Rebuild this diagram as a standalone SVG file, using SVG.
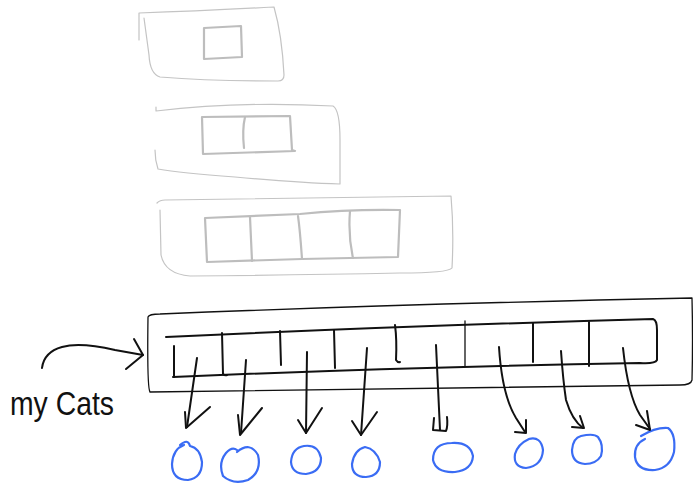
<svg xmlns="http://www.w3.org/2000/svg" width="693" height="487" viewBox="0 0 693 487">
<defs>
<style>
.outer{fill:none;stroke:#c4c4c4;stroke-width:1.2;stroke-linecap:round;stroke-linejoin:round}
.cell{fill:none;stroke:#bdbdbd;stroke-width:2.2;stroke-linecap:round;stroke-linejoin:round}
.ink{fill:none;stroke:#111;stroke-width:2;stroke-linecap:round;stroke-linejoin:round}
.thin{fill:none;stroke:#111;stroke-width:1.3;stroke-linecap:round;stroke-linejoin:round}
.cat{fill:none;stroke:#3a6cf4;stroke-width:2.2;stroke-linecap:round;stroke-linejoin:round}
.lbl{font-family:"Liberation Sans","DejaVu Sans",sans-serif;font-size:34px;fill:#111}
</style>
</defs>
<rect width="693" height="487" fill="#fff"/>

<g id="array1">
<path class="outer" d="M139,40 L139,13 Q200,11 274,7 Q282,35 284,75 Q284,81 278,81 Q210,81 160,77 Q150,74 149,55 L144,18"/>
<path class="cell" d="M204,28 L241,26 L242,57 L204,59 Z"/>
</g>

<g id="array2">
<path class="outer" d="M156,107 L156,111 Q240,101 333,106 Q340,110 340,140 L340,184 Q300,183 235,177 Q180,173 158,169 Q155,160 155,150"/>
<path class="cell" d="M202,117 L290,116 L292,150 L295,151 L203,154 L202,117"/>
<path class="cell" d="M245,117 Q242,130 244,148"/>
</g>

<g id="array3">
<path class="outer" d="M157,203 Q160,200 165,200 Q300,198 451,196 Q454,230 452,268 Q448,273 400,273 Q300,275 190,276 Q165,274 161,255 L160,210"/>
<path class="cell" d="M205,218 L300,214 Q350,209 400,210 L398,257 L302,259 L207,262 L205,218"/>
<path class="cell" d="M250,217 L252,261"/>
<path class="cell" d="M298,216 Q300,230 302,259"/>
<path class="cell" d="M350,211 Q348,235 353,258"/>
</g>

<g id="myCatsArray">
<path class="thin" d="M148,317 Q149,314 160,314 Q400,304 692,298 Q693,340 692,380 Q691,385 680,385 Q400,388 150,392 Q147,388 148,317"/>
<path class="ink" d="M166,337 Q400,326 653,319 Q657,320 657,330 L657,360 Q655,364 640,363 Q400,367 173,377"/>
<path class="ink" d="M174,346 L174,377"/>
<path class="ink" d="M222,333 L223,374 Q225,376 227,375"/>
<path class="ink" d="M280,331 L281,365"/>
<path class="ink" d="M334,330 L335,368"/>
<path class="ink" d="M395,325 Q397,340 396,360 Q398,363 400,362"/>
<path class="thin" d="M465,321 L465,366"/>
<path class="ink" d="M533,323 L533,362"/>
<path class="ink" d="M589,322 L589,366"/>
</g>

<g id="label">
<text class="lbl" x="10" y="415" textLength="104" lengthAdjust="spacingAndGlyphs">my Cats</text>
</g>

<g id="cat1"><path class="cat" d="M180,445 Q188,438 190,446 Q200,448 202,462 Q202,478 188,480 Q172,480 172,464 Q173,449 184,445"/></g>
<g id="cat2"><path class="cat" d="M237,452 Q250,441 258,455 Q262,472 248,480 Q233,485 223,476 Q218,463 226,453 Q232,446 237,450"/></g>
<g id="cat3"><path class="cat" d="M304,446 Q318,444 321,458 Q321,472 306,474 Q292,474 291,462 Q292,448 304,446"/></g>
<g id="cat4"><path class="cat" d="M365,447 Q376,449 380,462 Q380,476 366,477 Q352,477 352,464 Q354,450 365,447"/></g>
<g id="cat5"><path class="cat" d="M452,443 Q470,442 473,456 Q472,470 455,472 Q436,473 433,460 Q433,443 452,443"/></g>
<g id="cat6"><path class="cat" d="M529,439 Q541,436 543,450 Q542,466 526,468 Q513,467 515,454 Q518,444 529,439"/></g>
<g id="cat7"><path class="cat" d="M581,436 Q594,433 598,437 Q604,445 601,456 Q596,464 585,464 Q572,463 572,450 Q573,438 581,436"/></g>
<g id="cat8"><path class="cat" d="M641,436 Q656,427 668,428 Q676,434 674,452 Q670,468 655,470 Q637,471 635,457 Q634,444 645,439"/></g>

<g id="connectors">
<path class="ink" d="M42,368 Q44,352 62,347 Q80,342 115,350 L143,355"/>
<path class="ink" d="M134,339 L143,355 L126,369"/>

<path class="ink" d="M197,358 L187,427"/>
<path class="ink" d="M185,412 L186,428 L210,407"/>
<path class="ink" d="M246,360 L241,433"/>
<path class="ink" d="M238,415 L240,435 L262,408"/>
<path class="ink" d="M307,352 L306,433"/>
<path class="ink" d="M298,420 L306,433 L322,408"/>
<path class="ink" d="M367,348 L361,435"/>
<path class="ink" d="M352,421 L361,435 L377,412"/>
<path class="ink" d="M436,345 L440,430"/>
<path class="ink" d="M434,418 L433,430 L446,431 Q448,426 447,417"/>
<path class="ink" d="M499,347 Q502,395 516,418 L525,432"/>
<path class="ink" d="M515,432 L526,433 L526,420"/>
<path class="ink" d="M561,351 Q563,380 566,400 Q572,420 583,428"/>
<path class="ink" d="M580,416 L584,428 L572,427"/>
<path class="ink" d="M623,348 Q628,395 640,415 L650,429"/>
<path class="ink" d="M647,411 L650,430 L636,425"/>
</g>
</svg>
